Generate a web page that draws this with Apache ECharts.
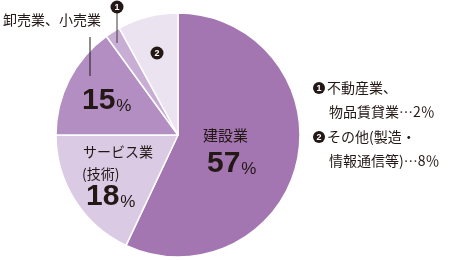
<!DOCTYPE html>
<html>
<head>
<meta charset="utf-8">
<script src="https://cdn.jsdelivr.net/npm/echarts@6/dist/echarts.min.js"></script>
<style>
  html, body { margin: 0; padding: 0; background: #fff; }
  #chart { width: 453px; height: 260px; }
</style>
</head>
<body>
<div id="chart"></div>
<script>
// Industry shares, clockwise from 12 o'clock
const categories = ['建設業', 'サービス業(技術)', '卸売業、小売業', '不動産業、物品賃貸業', 'その他(製造・情報通信等)'];
const shares = [57, 18, 15, 2, 8];
const palette = ['#a376b1', '#dacae4', '#b28ec3', '#c8aed5', '#ebe3f0'];

const JP = '"Noto Sans CJK JP", "Noto Sans", sans-serif';
const NUM = '"Liberation Sans", Arial, sans-serif';
const INK = '#231815';

const chart = echarts.init(document.getElementById('chart'), null, { renderer: 'canvas' });

const ctx = document.createElement('canvas').getContext('2d');
function textWidth(t, font) { ctx.font = font; return ctx.measureText(t).width; }

// big percentage: bold number followed by a smaller percent sign on the same baseline
function pct(v, x, y) {
  const s = String(v);
  const w = textWidth(s, 'bold 30px "Liberation Sans"');
  return [
    { type: 'text', z: 100, x: x, y: y, style: { text: s, fontFamily: NUM, fontWeight: 'bold', fontSize: 30, fill: INK, align: 'left', verticalAlign: 'middle' } },
    { type: 'text', z: 100, x: x + w + 1, y: y + 5, style: { text: '%', fontFamily: NUM, fontSize: 17, fill: INK, align: 'left', verticalAlign: 'middle' } }
  ];
}
function label(t, x, y, size) {
  return { type: 'text', z: 100, x: x, y: y, style: { text: t, fontFamily: JP, fontSize: size || 14, fill: INK, align: 'left', verticalAlign: 'middle' } };
}
function badge(n, cx, cy, r) {
  return [
    { type: 'circle', z: 100, shape: { cx: cx, cy: cy, r: r || 6 }, style: { fill: INK } },
    { type: 'text', z: 101, x: cx, y: cy + 0.5, style: { text: String(n), fontFamily: NUM, fontWeight: 'bold', fontSize: 9, fill: '#fff', align: 'center', verticalAlign: 'middle' } }
  ];
}

const graphics = [
  label(categories[0], 203, 135, 15),
  ...pct(shares[0], 207, 164),
  label('サービス業', 83, 152),
  label('(技術)', 82, 174),
  ...pct(shares[1], 86, 197),
  ...pct(shares[2], 82, 101),
  label(categories[2], 3, 20),
  { type: 'line', z: 100, shape: { x1: 90, y1: 37, x2: 90, y2: 76 }, style: { stroke: INK, lineWidth: 1 } },
  { type: 'line', z: 100, shape: { x1: 117, y1: 12, x2: 117, y2: 43 }, style: { stroke: '#3e3a39', lineWidth: 1 } },
  ...badge(1, 117, 7, 6.5),
  ...badge(2, 157, 53, 6.5),
  // side notes for the two small slices
  ...badge(1, 319, 88),
  label('不動産業、', 327, 88),
  label(`物品賃貸業…${shares[3]}％`, 329, 112),
  ...badge(2, 319, 137),
  label('その他(製造・', 327, 137),
  label(`情報通信等)…${shares[4]}％`, 329, 161)
];

chart.setOption({
  animation: false,
  backgroundColor: '#fff',
  series: [{
    type: 'pie',
    z: 2,
    center: [178, 135],
    radius: 122,
    startAngle: 90,
    clockwise: true,
    label: { show: false },
    labelLine: { show: false },
    emphasis: { disabled: true },
    itemStyle: { borderColor: '#fff', borderWidth: 1.5 },
    data: categories.map((c, i) => ({ name: c, value: shares[i], itemStyle: { color: palette[i] } }))
  }],
  graphic: graphics
});
</script>
</body>
</html>
